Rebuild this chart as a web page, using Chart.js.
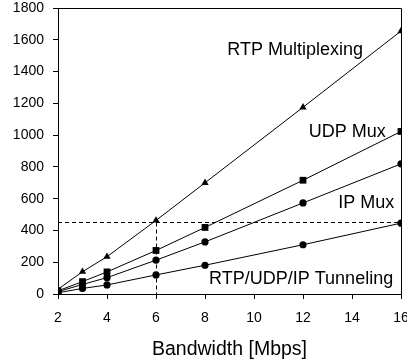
<!DOCTYPE html>
<html><head><meta charset="utf-8">
<script src="https://cdn.jsdelivr.net/npm/chart.js@4"></script>
<style>html,body{margin:0;padding:0;background:#fff}#wrap{width:407px;height:364px}</style>
</head><body><div id="wrap"><canvas id="c" width="407" height="364"></canvas></div>
<script>
const bandwidth = [2, 3, 4, 6, 8, 12, 16];
const rtpMultiplexing = [30, 140, 235, 463, 700, 1175, 1655];
const udpMux = [20, 78, 139, 274, 419, 716, 1023];
const ipMux = [15, 60, 103, 213, 328, 573, 819];
const tunneling = [8, 35, 57, 120, 181, 310, 446];
const seriesNames = ['RTP Multiplexing', 'UDP Mux', 'IP Mux', 'RTP/UDP/IP Tunneling'];
const thresholdValue = 455;
const thresholdBandwidth = 6;
const xTicks = [2, 4, 6, 8, 10, 12, 14, 16];
const yTicks = [0, 200, 400, 600, 800, 1000, 1200, 1400, 1600, 1800];

// label anchor positions in data units (right-aligned)
const labelPos = [[14.45, 1535], [15.38, 1020], [15.72, 575], [15.68, 95]];

const FONT = "'Liberation Sans', Arial, sans-serif";
const pts = arr => bandwidth.map((x, i) => ({x, y: arr[i]}));
const mk = (name, data, style, r) => ({
  label: name, data: pts(data), borderColor: '#000', backgroundColor: '#000',
  borderWidth: 1, pointStyle: style, pointRadius: r, pointHoverRadius: r,
  pointBorderWidth: 0, showLine: true, tension: 0
});

const overlay = {
  id: 'overlay',
  afterDatasetsDraw(chart) {
    const {ctx, chartArea: a, scales: {x, y}} = chart;
    ctx.save();
    ctx.strokeStyle = '#000';
    ctx.lineWidth = 1;
    ctx.beginPath();
    ctx.moveTo(a.left, a.top + 0.5);
    ctx.lineTo(a.right + 0.5, a.top + 0.5);
    ctx.lineTo(a.right + 0.5, a.bottom);
    ctx.stroke();
    ctx.setLineDash([4, 3]);
    const yp = Math.round(y.getPixelForValue(thresholdValue)) + 0.5;
    const xp = Math.round(x.getPixelForValue(thresholdBandwidth)) + 0.5;
    ctx.beginPath();
    ctx.moveTo(a.left, yp); ctx.lineTo(a.right, yp);
    ctx.moveTo(xp, yp); ctx.lineTo(xp, a.bottom);
    ctx.stroke();
    ctx.setLineDash([]);
    ctx.fillStyle = '#000';
    ctx.font = '18px ' + FONT;
    ctx.textAlign = 'right';
    ctx.textBaseline = 'middle';
    seriesNames.forEach((n, i) => {
      ctx.fillText(n, x.getPixelForValue(labelPos[i][0]), y.getPixelForValue(labelPos[i][1]));
    });
    ctx.restore();
  }
};

new Chart(document.getElementById('c'), {
  type: 'scatter',
  data: {datasets: [
    mk(seriesNames[0], rtpMultiplexing, 'triangle', 4.2),
    mk(seriesNames[1], udpMux, 'rect', 4.8),
    mk(seriesNames[2], ipMux, 'circle', 3.6),
    mk(seriesNames[3], tunneling, 'circle', 3.6)
  ]},
  options: {
    responsive: false, animation: false, devicePixelRatio: 1,
    layout: {padding: {top: 8, right: 6, left: 0, bottom: 0}},
    plugins: {legend: {display: false}, tooltip: {enabled: false}},
    scales: {
      x: {
        type: 'linear', min: 2, max: 16,
        afterBuildTicks: s => { s.ticks = xTicks.map(v => ({value: v})); },
        afterFit: s => { s.height = 70; s.paddingLeft = 0; s.paddingRight = 0; },
        border: {display: true, color: '#000', width: 1},
        grid: {display: true, drawOnChartArea: false, drawTicks: true, tickLength: 5, color: '#000'},
        ticks: {color: '#000', font: {family: FONT, size: 14}, padding: 11, maxRotation: 0, callback: v => String(v)},
        title: {display: true, text: 'Bandwidth [Mbps]', color: '#000', font: {family: FONT, size: 19.5}, padding: {top: 4, bottom: 3}}
      },
      y: {
        min: 0, max: 1800,
        afterBuildTicks: s => { s.ticks = yTicks.map(v => ({value: v})); },
        afterFit: s => { s.width = 58; s.paddingTop = 0; s.paddingBottom = 0; },
        border: {display: true, color: '#000', width: 1},
        grid: {display: true, drawOnChartArea: false, drawTicks: true, tickLength: 5, color: '#000'},
        ticks: {color: '#000', font: {family: FONT, size: 14}, padding: 9, callback: v => String(v)}
      }
    }
  },
  plugins: [overlay]
});
</script>
</body></html>
